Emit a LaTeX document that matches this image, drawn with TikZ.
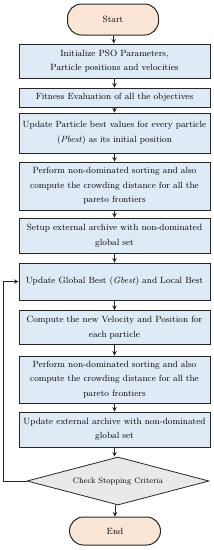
\documentclass[tikz,border=0pt]{standalone}
\usepackage{xcolor}
\usetikzlibrary{shapes,arrows,positioning}
\definecolor{startpeach}{RGB}{251,229,214}
\definecolor{boxblue}{RGB}{222,235,247}
\definecolor{checkgray}{RGB}{233,233,233}
\definecolor{edgedark}{RGB}{38,38,38}

\begin{document}
\begin{tikzpicture}[x=1pt, y=-1pt,
    process/.style={draw=edgedark, line width=1pt, fill=boxblue, minimum width=191pt, inner sep=0pt, align=center, font=\fontsize{9}{14.5}\selectfont},
    terminal/.style={draw=edgedark, line width=1pt, fill=startpeach, rounded corners=14pt, minimum width=91pt, inner sep=0pt, align=center, font=\fontsize{9}{11}\selectfont},
    decision/.style={draw=edgedark, line width=0.8pt, fill=checkgray, shape=diamond, aspect=3.8, minimum width=182pt, minimum height=48pt, inner sep=0pt, font=\fontsize{8}{10}\selectfont},
    flow/.style={->, line width=1pt, >=stealth, draw=edgedark}]
    \useasboundingbox (0,0) rectangle (214,550);

    \node[terminal, minimum height=31pt] (start) at (113,19.5) {Start};
    \node[process, minimum height=34pt] (init) at (114.5,61) {Initialize PSO Parameters,\\Particle positions and velocities};
    \node[process, minimum height=19pt] (fitness) at (114.5,97.5) {Fitness Evaluation of all the objectives};
    \node[process, minimum height=40pt] (pbest) at (114.5,133) {Update Particle best values for every particle\\(\textit{Pbest}) as its initial position};
    \node[process, minimum height=48pt] (sortA) at (114.5,186) {Perform non-dominated sorting and also\\compute the crowding distance for all the\\pareto frontiers};
    \node[process, minimum height=35pt] (archive) at (114.5,235.5) {Setup external archive with non-dominated\\global set};
    \node[process, minimum height=37pt] (gbest) at (114.5,281.5) {Update Global Best (\textit{Gbest}) and Local Best};
    \node[process, minimum height=34pt] (velocity) at (114.5,327.5) {Compute the new Velocity and Position for\\each particle};
    \node[process, minimum height=47pt] (sortB) at (114.5,379.5) {Perform non-dominated sorting and also\\compute the crowding distance for all the\\pareto frontiers};
    \node[process, minimum height=35pt] (update) at (114.5,429.5) {Update external archive with non-dominated\\global set};
    \node[decision] (check) at (118,481) {Check Stopping Criteria};
    \node[terminal, minimum height=28pt] (end) at (115,531) {End};

    \coordinate (back) at (3.5,481);

    \draw[flow] (start) -- (init);
    \draw[flow] (init) -- (fitness);
    \draw[flow] (fitness) -- (pbest);
    \draw[flow] (pbest) -- (sortA);
    \draw[flow] (sortA) -- (archive);
    \draw[flow] (archive) -- (gbest);
    \draw[flow] (gbest) -- (velocity);
    \draw[flow] (velocity) -- (sortB);
    \draw[flow] (sortB) -- (update);
    \draw[flow] (update.south) -- (update.south |- check.north);
    \draw[flow] (check.south -| end.north) -- (end);
    \draw[flow] (check.west) -- (back) |- (gbest.west);
\end{tikzpicture}
\end{document}
